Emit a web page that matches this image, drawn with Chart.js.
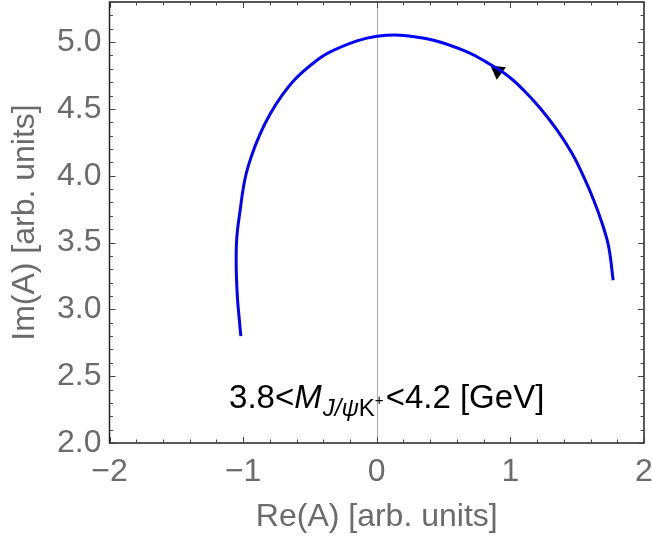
<!DOCTYPE html>
<html>
<head>
<meta charset="utf-8">
<script src="https://cdn.jsdelivr.net/npm/chart.js@4/dist/chart.umd.min.js"></script>
<style>
  html,body{margin:0;padding:0;background:#fff;}
  #wrap{width:652px;height:544px;position:relative;}
</style>
</head>
<body>
<div id="wrap"><canvas id="c" width="652" height="544"></canvas></div>
<script>
// Curve of the amplitude in the complex plane (ordered along the arrow direction)
const reA = [1.769, 1.736, 1.687, 1.624, 1.549, 1.462, 1.350, 1.225, 1.100, 0.975, 0.820, 0.676, 0.425, 0.176, 0.002, -0.148, -0.363, -0.488, -0.613, -0.713, -0.800, -0.875, -0.938, -0.987, -1.025, -1.047, -1.052, -1.043, -1.028, -1.017];
const imA = [3.218, 3.467, 3.642, 3.817, 3.991, 4.166, 4.341, 4.503, 4.640, 4.752, 4.850, 4.927, 5.014, 5.052, 5.044, 5.009, 4.919, 4.832, 4.720, 4.595, 4.458, 4.308, 4.146, 3.972, 3.722, 3.542, 3.343, 3.093, 2.918, 2.799];
// Direction arrow marker
const arrowRe = [0.905];
const arrowIm = [4.785];
// Axes
const xTickValues = [-2, -1, 0, 1, 2];
const yTickValues = [2.0, 2.5, 3.0, 3.5, 4.0, 4.5, 5.0];
const xRange = [-2, 2];
const yRange = [2, 5.3];
const xTitle = 'Re(A) [arb. units]';
const yTitle = 'Im(A) [arb. units]';
const labelParts = ['3.8<', 'M', 'J/ψ', 'K', '+', '<4.2 [GeV]'];
const labelPos = [-1.105, 2.26];

const FONT = '"Liberation Sans", Arial, Helvetica, sans-serif';
const GRAY = '#6b6b6b';

const curve = reA.map((x, i) => ({x: x, y: imA[i]}));
const arrow = arrowRe.map((x, i) => ({x: x, y: arrowIm[i]}));

const framePlugin = {
  id: 'frame',
  beforeDatasetsDraw(chart) {
    const {ctx, chartArea: a, scales: {x, y}} = chart;
    ctx.save();
    const x0 = Math.round(x.getPixelForValue(0)) + 0.5;
    ctx.strokeStyle = '#aaaaaa';
    ctx.lineWidth = 1;
    ctx.beginPath(); ctx.moveTo(x0, a.top); ctx.lineTo(x0, a.bottom); ctx.stroke();
    ctx.restore();
  },
  afterDatasetsDraw(chart) {
    const {ctx, chartArea: a, scales: {x, y}} = chart;
    ctx.save();
    ctx.strokeStyle = '#222';
    ctx.lineWidth = 1.5;
    ctx.strokeRect(a.left, a.top, a.right - a.left, a.bottom - a.top);
    ctx.strokeStyle = '#444';
    ctx.lineWidth = 1;
    for (let i = 0; i <= 20; i++) {
      const v = xRange[0] + i * 0.2;
      const px = Math.round(x.getPixelForValue(v)) + 0.5;
      const len = (i % 5 === 0) ? 6 : 3.5;
      ctx.beginPath();
      ctx.moveTo(px, a.bottom); ctx.lineTo(px, a.bottom - len);
      ctx.moveTo(px, a.top); ctx.lineTo(px, a.top + len);
      ctx.stroke();
    }
    for (let i = 0; i <= 33; i++) {
      const v = yRange[0] + i * 0.1;
      const py = Math.round(y.getPixelForValue(v)) + 0.5;
      const len = (i % 5 === 0) ? 6 : 3.5;
      ctx.beginPath();
      ctx.moveTo(a.left, py); ctx.lineTo(a.left + len, py);
      ctx.moveTo(a.right, py); ctx.lineTo(a.right - len, py);
      ctx.stroke();
    }
    let px = x.getPixelForValue(labelPos[0]);
    const base = y.getPixelForValue(labelPos[1]);
    ctx.fillStyle = '#000';
    ctx.textBaseline = 'alphabetic';
    ctx.textAlign = 'left';
    const seg = (t, font, dy) => { ctx.font = font; ctx.fillText(t, px, base + dy); px += ctx.measureText(t).width; };
    seg(labelParts[0], '33px ' + FONT, 0);
    seg(labelParts[1], 'italic 33px ' + FONT, 0);
    px += 1;
    seg(labelParts[2], 'italic 24px ' + FONT, 8);
    seg(labelParts[3], '24px ' + FONT, 8);
    seg(labelParts[4], '15px ' + FONT, -3);
    px += 2;
    seg(labelParts[5], '33px ' + FONT, 0);
    ctx.restore();
  }
};

const noPad = s => { s.paddingTop = 0; s.paddingBottom = 0; s.paddingLeft = 0; s.paddingRight = 0; };

new Chart(document.getElementById('c'), {
  type: 'scatter',
  data: {
    datasets: [
      {data: curve, showLine: true, borderColor: '#0000ff', backgroundColor: '#0000ff', borderWidth: 3, pointRadius: 0, tension: 0.4, fill: false},
      {data: arrow, showLine: false, pointStyle: 'triangle', rotation: -54, pointRadius: 9, backgroundColor: '#000', borderColor: '#000', borderWidth: 0}
    ]
  },
  options: {
    responsive: false,
    animation: false,
    events: [],
    layout: {autoPadding: false, padding: {top: 2, right: 8, left: 0, bottom: 0}},
    plugins: {legend: {display: false}, tooltip: {enabled: false}},
    scales: {
      x: {
        type: 'linear', min: xRange[0], max: xRange[1],
        afterBuildTicks: s => { s.ticks = xTickValues.map(v => ({value: v})); },
        afterFit: s => { s.height = 101; noPad(s); },
        grid: {display: false, drawTicks: false},
        border: {display: false},
        ticks: {color: GRAY, font: {family: FONT, size: 32}, padding: 10, maxRotation: 0,
                callback: v => String(v).replace('-', '\u2212')},
        title: {display: true, text: xTitle, color: GRAY, font: {family: FONT, size: 32}, padding: {top: 0, bottom: 8}}
      },
      y: {
        type: 'linear', min: yRange[0], max: yRange[1],
        afterBuildTicks: s => { s.ticks = yTickValues.map(v => ({value: v})); },
        afterFit: s => { s.width = 109.5; noPad(s); },
        grid: {display: false, drawTicks: false},
        border: {display: false},
        ticks: {color: GRAY, font: {family: FONT, size: 32}, padding: 8,
                callback: v => Number(v).toFixed(1)},
        title: {display: true, text: yTitle, color: GRAY, font: {family: FONT, size: 32}, padding: {top: 6, bottom: 0}}
      }
    }
  },
  plugins: [framePlugin]
});
</script>
</body>
</html>
